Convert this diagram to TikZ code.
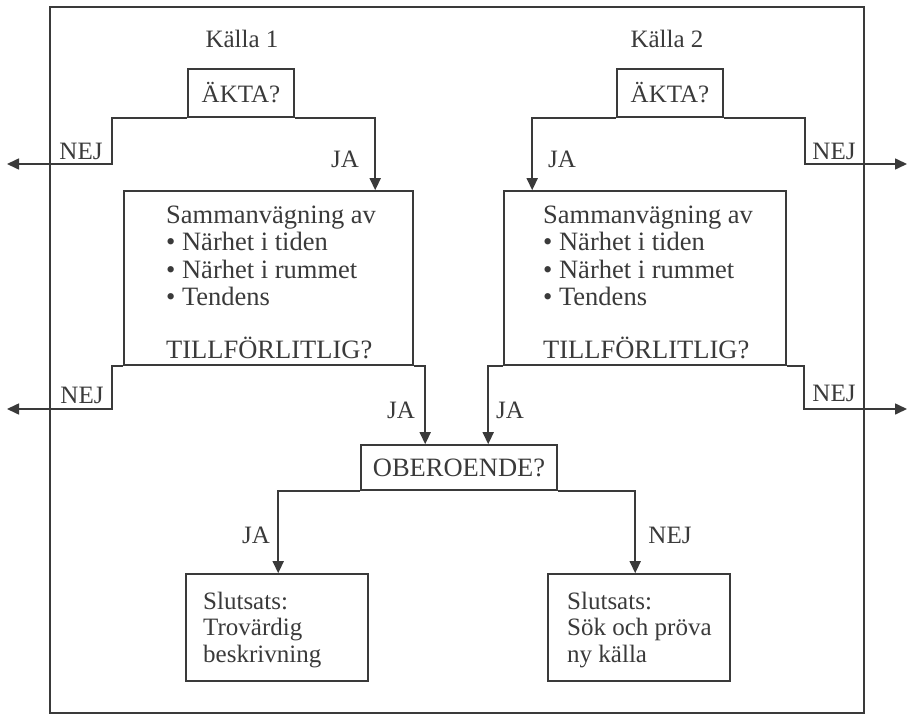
\documentclass[tikz,border=0pt]{standalone}
\usepackage{fontspec}
\setmainfont{Liberation Serif}
\usetikzlibrary{arrows.meta}
\definecolor{ink}{HTML}{3A3A3A}
\begin{document}
\begin{tikzpicture}[x=1pt,y=-1pt,
  every node/.style={font=\fontsize{25}{27}\selectfont, text=ink},
  big/.style={font=\fontsize{26.5}{28}\selectfont},
  box/.style={draw=ink, line width=1.6pt, inner sep=0pt},
  wire/.style={draw=ink, line width=1.6pt},
  flow/.style={wire, -{Triangle[length=12pt,width=11pt]}},
  tag/.style={anchor=base, inner sep=0pt},
  body/.style={anchor=base west, inner sep=0pt}]
\useasboundingbox (0,0) rectangle (910,722);

% outer frame
\node[box, minimum width=814pt, minimum height=706pt] (frame) at (457,360) {};

% source headings
\node[tag] (k1) at (242,48) {Källa 1};
\node[tag] (k2) at (667,48) {Källa 2};

% question and result boxes
\node[box, minimum width=106pt, minimum height=48pt] (akta1) at (241,93) {ÄKTA?};
\node[box, minimum width=106pt, minimum height=48pt] (akta2) at (670,93) {ÄKTA?};
\node[box, minimum width=289pt, minimum height=174pt] (s1) at (268.5,278) {};
\node[box, minimum width=282pt, minimum height=174pt] (s2) at (645,278) {};
\node[box, big, minimum width=196pt, minimum height=45pt] (ober) at (459,467.5) {OBEROENDE?};
\node[box, minimum width=182pt, minimum height=107pt] (r1) at (277,627.5) {};
\node[box, minimum width=182pt, minimum height=107pt] (r2) at (639,627.5) {};

% box contents
\node[body, big] (s1a) at (166,223) {Sammanvägning av};
\node[body, big] (s1b) at (166,250) {\textbullet\ Närhet i tiden};
\node[body, big] (s1c) at (166,278) {\textbullet\ Närhet i rummet};
\node[body, big] (s1d) at (166,305) {\textbullet\ Tendens};
\node[body, big] (s1e) at (166,358) {TILLFÖRLITLIG?};
\node[body, big] (s2a) at (543,223) {Sammanvägning av};
\node[body, big] (s2b) at (543,250) {\textbullet\ Närhet i tiden};
\node[body, big] (s2c) at (543,278) {\textbullet\ Närhet i rummet};
\node[body, big] (s2d) at (543,305) {\textbullet\ Tendens};
\node[body, big] (s2e) at (543,358) {TILLFÖRLITLIG?};
\node[body] (r1a) at (203,609) {Slutsats:};
\node[body] (r1b) at (203,635) {Trovärdig};
\node[body] (r1c) at (203,662) {beskrivning};
\node[body] (r2a) at (567,609) {Slutsats:};
\node[body] (r2b) at (567,635) {Sök och pröva};
\node[body] (r2c) at (567,662) {ny källa};

% free ends of the rejecting branches
\coordinate (out1) at (7,164);
\coordinate (out2) at (7,409);
\coordinate (out3) at (907,164);
\coordinate (out4) at (907,409);

% connectors
\draw[flow] (akta1.south west) -| (112,164) -- (out1);
\draw[flow] (akta1.south east) -| ([xshift=252pt]s1.north west);
\draw[flow] (akta2.south west) -| ([xshift=29pt]s2.north west);
\draw[flow] (akta2.south east) -| (805,164) -- (out3);
\draw[flow] (s1.south west) -| (112,409) -- (out2);
\draw[flow] (s1.south east) -| ([xshift=65pt]ober.north west);
\draw[flow] (s2.south west) -| ([xshift=128pt]ober.north west);
\draw[flow] (s2.south east) -| (804,409) -- (out4);
\draw[flow] (ober.south west) -| ([xshift=93pt]r1.north west);
\draw[flow] (ober.south east) -| ([xshift=88pt]r2.north west);

% branch labels
\node[tag] (n1) at (81,160) {NEJ};
\node[tag] (j1) at (345,168) {JA};
\node[tag] (j2) at (562,168) {JA};
\node[tag] (n2) at (834,160) {NEJ};
\node[tag] (n3) at (82,403) {NEJ};
\node[tag] (j3) at (401,418) {JA};
\node[tag] (j4) at (510,418) {JA};
\node[tag] (n4) at (834,401) {NEJ};
\node[tag] (j5) at (256,543) {JA};
\node[tag] (n5) at (670,543) {NEJ};
\end{tikzpicture}
\end{document}
